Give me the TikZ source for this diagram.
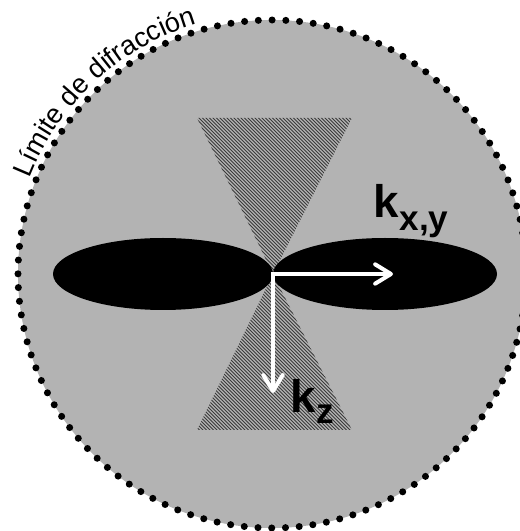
\documentclass[tikz,border=0pt]{standalone}
\usepackage{fontspec}
\setmainfont{Liberation Sans}
\usetikzlibrary{arrows.meta,decorations.text}
\definecolor{fondo}{HTML}{B3B3B3}
\definecolor{raya}{HTML}{3A3A3A}
\begin{document}
\begin{tikzpicture}[x=0.02cm,y=0.02cm,
  flecha/.style={draw=white,line width=2.3pt,
    {Straight Barb[length=9pt,width=11pt,round]}-{Straight Barb[length=9pt,width=11pt,round]}},
  etiq/.style={inner sep=0pt,anchor=base west,font=\bfseries\fontsize{26}{30}\selectfont},
  subind/.style={inner sep=0pt,anchor=base west,font=\bfseries\fontsize{20}{24}\selectfont}]
  \useasboundingbox (0,0) rectangle (520,531);

  % disco de fondo
  \fill[fondo] (272,257) circle (254);

  % conos rayados
  \begin{scope}
    \clip (197,413) -- (352,413) -- (273,257) -- cycle
          (197,101) -- (352,101) -- (273,257) -- cycle;
    \foreach \s in {290,293.5,...,775}
      \draw[raya,line width=0.5pt] ({\s-430},430) -- ({\s-80},80);
  \end{scope}

  % lobulos
  \fill (163,257) ellipse (110 and 36);
  \fill (385,257) ellipse (112 and 36);

  % vectores k
  \coordinate (O) at (273,257);
  \coordinate (Kxy) at (393,257);
  \coordinate (Kz) at (273,138);
  \draw[flecha] (Kz) -- (O) -- (Kxy);

  \node[etiq] (k1) at (373,313) {k};
  \node[subind] (s1) at ([yshift=-7.4pt]k1.base east) {x,y};
  \node[etiq] (k2) at (290,118) {k};
  \node[subind] (s2) at ([yshift=-5.7pt]k2.base east) {z};

  % limite de difraccion
  \draw[line width=4pt,line cap=round,dash pattern=on 0pt off 7.83pt] (272,257) circle (254);
  \path[decorate,decoration={text along path,text align=left,
    text={|\fontsize{15.5}{18}\selectfont|Límite de difracción}}]
    (272,257) ++(158.5:261) arc (158.5:95:261);
\end{tikzpicture}
\end{document}
